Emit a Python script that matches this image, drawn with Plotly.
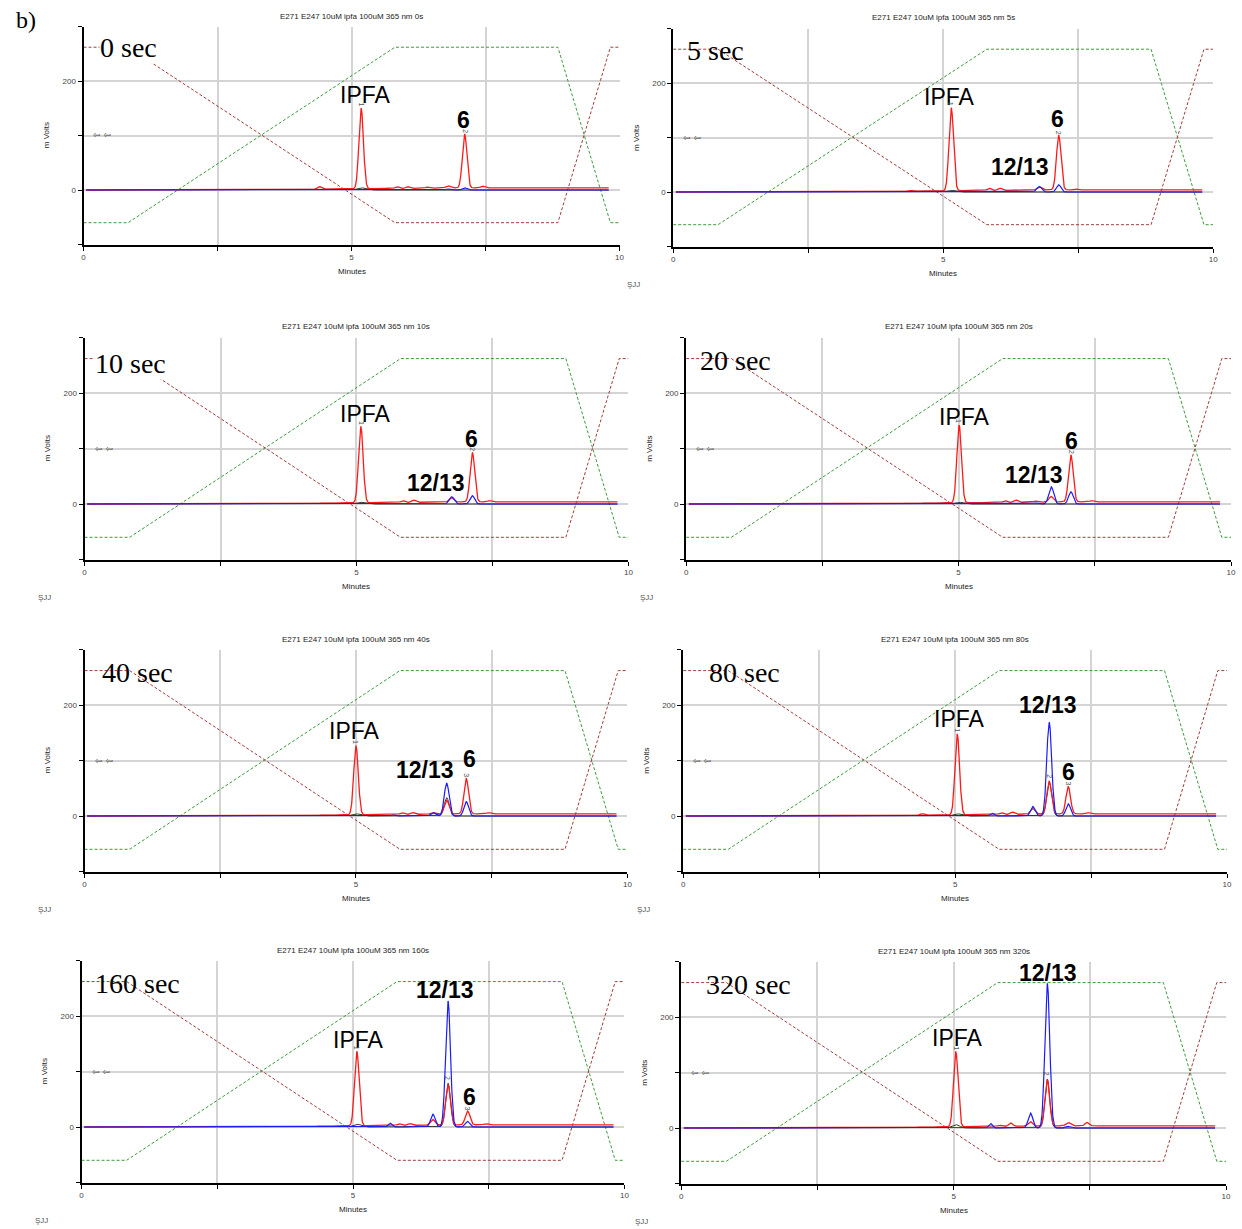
import numpy as np
import plotly.graph_objects as go

W, H = 1242, 1229

# ---------------- data ----------------
run_labels = ["0 sec", "5 sec", "10 sec", "20 sec", "40 sec", "80 sec", "160 sec", "320 sec"]
run_suffix = ["0s", "5s", "10s", "20s", "40s", "80s", "160s", "320s"]

# IPFA peak (red channel)
ipfa_rt = [5.18, 5.15, 5.08, 5.01, 5.00, 5.04, 5.07, 5.04]
ipfa_red = [147, 152, 137, 140, 124, 145, 134, 135]
ipfa_black = [4, 3, 3, 3, 4, 4, 5, 6]

# peak 6
pk6_rt = [7.11, 7.14, 7.13, 7.06, 7.03, 7.08, 7.11, 7.10]
pk6_red = [99, 100, 89, 85, 64, 49, 25, 6]
pk6_blue = [4, 13, 15, 22, 26, 22, 10, 3]

# peak 12/13
pk1213_rt = [6.80, 6.78, 6.75, 6.70, 6.67, 6.73, 6.75, 6.72]
pk1213_red = [4, 6, 8, 10, 25, 59, 73, 83]
pk1213_blue = [2, 10, 13, 31, 59, 169, 227, 260]
pk1213_black = [0, 0, 0, 0, 33, 62, 79, 88]

# small peak before 12/13
minor_rt = [6.42, 6.42, 6.42, 6.42, 6.42, 6.43, 6.47, 6.41]
minor_blue = [0, 0, 0, 2, 6, 17, 23, 27]
minor_red = [2, 0, 0, 2, 3, 10, 10, 8]

# small early blue peak
early_rt = 5.68
early_blue = [0, 0, 0, 0, 2, 5, 7, 8]

# small red baseline bumps
noise_rt = [4.4, 5.85, 6.05, 7.45]
noise_red = [[5, 3, 3, 3], [2, 4, 4, 2], [1, 3, 4, 2], [1, 3, 4, 2],
             [1, 3, 3, 2], [3, 3, 4, 2], [1, 3, 3, 2], [1, 2, 6, 6]]

# red baseline drift
base_t = [0.0, 4.2, 5.3, 7.3, 9.8]
red_base = [0, 1, 2.5, 4, 4]

# solvent gradient program (shown as dashed lines)
grad_t = [0, 0.83, 5.81, 8.85, 9.83, 10]
grad_green = [-60, -60, 262, 262, -60, -60]
grad_red = [262, 262, -60, -60, 262, 262]

# text label positions (minutes, mV)
sec_pos = [(0.83, 261), (0.79, 259), (0.84, 254), (0.91, 258),
           (0.97, 259), (1.12, 258), (1.03, 259), (1.24, 258)]
ipfa_lab = [(5.27, 174), (5.12, 174), (5.17, 162), (5.11, 157),
            (4.98, 153), (5.08, 175), (5.11, 157), (5.07, 162)]
six_lab = [(7.09, 128), (7.11, 134), (7.11, 117), (7.08, 113),
           (7.09, 103), (7.09, 79), (7.14, 54), None]
p1213_lab = [None, (6.43, 46), (6.47, 38), (6.39, 52),
             (6.28, 83), (6.71, 200), (6.70, 247), (6.73, 279)]

# panel geometry in pixels: x(0), x(10), y(300), y(-100)
geo = [
    (82, 621, 26.5, 244.5),
    (675, 1218, 28.5, 246.5),
    (83, 630, 337.5, 559.5),
    (688, 1236, 337.5, 559.5),
    (83, 629, 649.5, 871.5),
    (685, 1232, 649.5, 871.5),
    (80, 626, 960.5, 1182.5),
    (683, 1231, 961.5, 1183.5),
]

SIG = 0.042
t = np.arange(0.05, 9.8, 0.004)


def peak(rt, h, s=SIG):
    return h * np.exp(-0.5 * ((t - rt) / s) ** 2)


fig = go.Figure()
layout = {}
ann = []

for i in range(8):
    n = "" if i == 0 else str(i + 1)
    x0, x1, yt, yb = geo[i]

    layout["xaxis" + n] = dict(
        domain=[x0 / W, x1 / W], anchor="y" + n, range=[0, 10],
        tickvals=[0, 2.5, 5, 7.5, 10], ticktext=["0", "", "5", "", "10"],
        showgrid=True, gridcolor="#d4d4d4", gridwidth=1.5,
        showline=True, linecolor="black", linewidth=2,
        ticks="outside", ticklen=4, tickcolor="black", tickwidth=1,
        tickfont=dict(size=8, color="#444", family="Arial"),
        zeroline=False, fixedrange=True,
    )
    layout["yaxis" + n] = dict(
        domain=[1 - yb / H, 1 - yt / H], anchor="x" + n, range=[-100, 300],
        tickvals=[-100, 0, 100, 200, 300], ticktext=["", "0", "", "200", ""],
        showgrid=True, gridcolor="#d4d4d4", gridwidth=1.5,
        showline=True, linecolor="black", linewidth=2,
        ticks="outside", ticklen=4, tickcolor="black", tickwidth=1,
        tickfont=dict(size=8, color="#444", family="Arial"),
        zeroline=False, fixedrange=True,
    )
    xr, yr = "x" + n, "y" + n

    # gradient lines
    fig.add_trace(go.Scatter(x=grad_t, y=grad_green, mode="lines", xaxis=xr, yaxis=yr,
                             line=dict(color="#3d9a3d", width=1, dash="3px,2px"),
                             hoverinfo="skip", showlegend=False))
    fig.add_trace(go.Scatter(x=grad_t, y=grad_red, mode="lines", xaxis=xr, yaxis=yr,
                             line=dict(color="#a03c3c", width=1, dash="3px,2px"),
                             hoverinfo="skip", showlegend=False))

    # chromatogram traces
    red = np.interp(t, base_t, red_base)
    red = red + peak(ipfa_rt[i], ipfa_red[i]) + peak(pk6_rt[i], pk6_red[i]) \
        + peak(pk1213_rt[i], pk1213_red[i]) + peak(minor_rt[i], minor_red[i])
    for rt, h in zip(noise_rt, noise_red[i]):
        red = red + peak(rt, h, 0.035)
    blue = peak(pk6_rt[i], pk6_blue[i]) + peak(pk1213_rt[i], pk1213_blue[i], 0.045) \
        + peak(minor_rt[i], minor_blue[i]) + peak(early_rt, early_blue[i], 0.035)
    black = peak(pk1213_rt[i], pk1213_black[i], 0.045) + peak(ipfa_rt[i], ipfa_black[i], 0.07)

    fig.add_trace(go.Scatter(x=t, y=black, mode="lines", xaxis=xr, yaxis=yr,
                             line=dict(color="#333333", width=1),
                             hoverinfo="skip", showlegend=False))
    fig.add_trace(go.Scatter(x=t, y=red, mode="lines", xaxis=xr, yaxis=yr,
                             line=dict(color="#ff1a1a", width=1.3),
                             hoverinfo="skip", showlegend=False))
    fig.add_trace(go.Scatter(x=t, y=blue, mode="lines", xaxis=xr, yaxis=yr,
                             line=dict(color="#1a1aff", width=1.2),
                             hoverinfo="skip", showlegend=False))

    # texts
    cx = (x0 + x1) / 2 / W
    ann.append(dict(text="E271 E247 10uM ipfa 100uM 365 nm " + run_suffix[i],
                    xref="paper", yref="paper", x=cx, y=1 - (yt - 4) / H,
                    xanchor="center", yanchor="bottom", showarrow=False,
                    font=dict(size=8, color="#222", family="Arial")))
    ann.append(dict(text="Minutes", xref="paper", yref="paper", x=cx, y=1 - (yb + 27) / H,
                    xanchor="center", yanchor="middle", showarrow=False,
                    font=dict(size=8, color="#222", family="Arial")))
    ann.append(dict(text="m Volts", xref="paper", yref="paper", x=(x0 - 37) / W,
                    y=1 - (yt + yb) / 2 / H, textangle=-90,
                    xanchor="center", yanchor="middle", showarrow=False,
                    font=dict(size=8, color="#222", family="Arial")))
    if i != 0:
        ann.append(dict(text="ŞJJ", xref="paper", yref="paper", x=(x0 - 40) / W,
                        y=1 - (yb + 38) / H, xanchor="center", yanchor="middle",
                        showarrow=False, font=dict(size=8, color="#555", family="Arial")))
    ann.append(dict(text="⇦ ⇦", xref=xr, yref=yr, x=0.35, y=100, xanchor="center",
                    yanchor="middle", showarrow=False,
                    font=dict(size=9, color="#444", family="DejaVu Sans")))

    sx, sy = sec_pos[i]
    ann.append(dict(text=run_labels[i], xref=xr, yref=yr, x=sx, y=sy,
                    xanchor="center", yanchor="middle", showarrow=False,
                    bgcolor="white" if i in (0, 2) else None, borderpad=0,
                    font=dict(size=28, color="black", family="Liberation Serif")))
    ax_, ay_ = ipfa_lab[i]
    ann.append(dict(text="IPFA", xref=xr, yref=yr, x=ax_, y=ay_,
                    xanchor="center", yanchor="middle", showarrow=False,
                    font=dict(size=23, color="black", family="Liberation Sans")))
    if six_lab[i] is not None:
        ann.append(dict(text="<b>6</b>", xref=xr, yref=yr, x=six_lab[i][0], y=six_lab[i][1],
                        xanchor="center", yanchor="middle", showarrow=False,
                        font=dict(size=23, color="black", family="Liberation Sans")))
    if p1213_lab[i] is not None:
        ann.append(dict(text="<b>12/13</b>", xref=xr, yref=yr, x=p1213_lab[i][0],
                        y=p1213_lab[i][1], xanchor="center", yanchor="middle",
                        showarrow=False,
                        font=dict(size=23, color="black", family="Liberation Sans")))

    # tiny peak numbers
    marks = [(ipfa_rt[i], ipfa_red[i], "1")]
    if i < 7:
        marks.append((pk6_rt[i], pk6_red[i], "2" if i < 4 else "3"))
    if i >= 5:
        marks.append((pk1213_rt[i], max(pk1213_red[i], pk1213_black[i]), "2"))
    for rt, h, s in marks:
        ann.append(dict(text=s, xref=xr, yref=yr, x=rt, y=h + 2, textangle=90,
                        xanchor="center", yanchor="bottom", showarrow=False,
                        font=dict(size=7, color="#555", family="Arial")))

ann.append(dict(text="b)", xref="paper", yref="paper", x=12 / W, y=1 - 20 / H,
                xanchor="left", yanchor="middle", showarrow=False,
                font=dict(size=24, color="black", family="Liberation Serif")))

fig.update_layout(**layout)
fig.update_layout(annotations=ann, width=W, height=H, margin=dict(l=0, r=0, t=0, b=0),
                  paper_bgcolor="white", plot_bgcolor="white", showlegend=False)

fig.write_html("out.html", config={"displayModeBar": False})
